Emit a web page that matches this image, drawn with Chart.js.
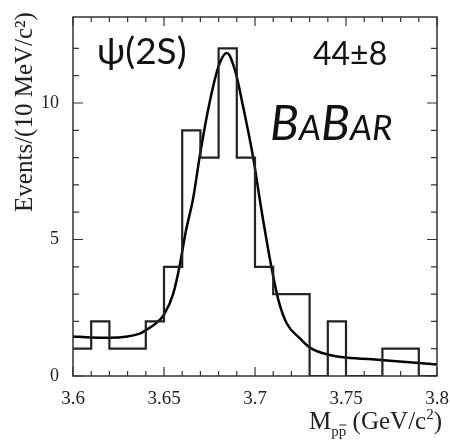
<!DOCTYPE html>
<html>
<head>
<meta charset="utf-8">
<script src="https://cdn.jsdelivr.net/npm/chart.js@4"></script>
<style>
  html, body { margin: 0; padding: 0; background: #fff; }
  #wrap { width: 450px; height: 440px; position: relative; }
</style>
</head>
<body>
<div id="wrap"><canvas id="c" width="450" height="440"></canvas></div>
<script>
// ---- data ----
const binLow = [3.60, 3.61, 3.62, 3.63, 3.64, 3.65, 3.66, 3.67, 3.68, 3.69,
                3.70, 3.71, 3.72, 3.73, 3.74, 3.75, 3.76, 3.77, 3.78, 3.79];
const counts = [1, 2, 1, 1, 2, 4, 9, 8, 12, 8,
                4, 3, 3, 0, 2, 0, 0, 1, 1, 0];
const histEnd = 3.80;

const fitX = [3.600, 3.610, 3.620, 3.630, 3.637, 3.640, 3.645, 3.650, 3.655, 3.6585,
              3.662, 3.666, 3.670, 3.675, 3.680, 3.6845, 3.689, 3.6935, 3.699, 3.7035,
              3.709, 3.7128, 3.7174, 3.7247, 3.730, 3.741, 3.750, 3.769, 3.790, 3.800];
const fitY = [1.45, 1.41, 1.40, 1.45, 1.56, 1.68, 1.90, 2.25, 3.00, 4.00,
              5.30, 6.50, 8.20, 10.00, 11.35, 11.83, 11.20, 9.86, 8.00, 6.10,
              4.00, 2.80, 1.93, 1.38, 1.05, 0.77, 0.68, 0.59, 0.48, 0.42];

const xTickLabels = ['3.6', '3.65', '3.7', '3.75', '3.8'];
const yTickLabels = ['0', '5', '10'];
const yTitle = 'Events/(10 MeV/c\u00B2)';
const labelPsi = '\u03C8(2S)';
const labelYield = '44\u00B18';

// ---- build datasets ----
const histPts = binLow.map((x, i) => ({ x: x, y: counts[i] }));
histPts.push({ x: histEnd, y: 0 });
const fitPts = fitX.map((x, i) => ({ x: x, y: fitY[i] }));

const framePlugin = {
  id: 'frame',
  afterDatasetsDraw(chart) {
    const { ctx, chartArea: a, scales: { x, y } } = chart;
    ctx.save();
    ctx.strokeStyle = '#333';
    ctx.lineWidth = 1.5;
    ctx.strokeRect(a.left, a.top, a.right - a.left, a.bottom - a.top);
    ctx.lineWidth = 1.2;
    ctx.beginPath();
    x.ticks.forEach(t => {
      const k = Math.round(t.value * 100);
      const px = x.getPixelForValue(k / 100);
      const L = (k % 5 === 0) ? 9 : 5;
      ctx.moveTo(px, a.bottom); ctx.lineTo(px, a.bottom - L);
      ctx.moveTo(px, a.top); ctx.lineTo(px, a.top + L);
    });
    y.ticks.forEach(t => {
      if (Math.abs(t.value - Math.round(t.value)) > 1e-6) return;
      const py = y.getPixelForValue(t.value);
      const L = (Math.round(t.value) % 5 === 0) ? 10 : 6;
      ctx.moveTo(a.left, py); ctx.lineTo(a.left + L, py);
      ctx.moveTo(a.right, py); ctx.lineTo(a.right - L, py);
    });
    ctx.stroke();
    ctx.restore();
  },
  afterDraw(chart) {
    const { ctx } = chart;
    ctx.save();
    ctx.fillStyle = '#111';
    ctx.textBaseline = 'alphabetic';
    // annotations
    ctx.font = '37px Lato, "DejaVu Sans", sans-serif';
    ctx.textAlign = 'left';
    ctx.fillText(labelPsi, 97, 64);
    ctx.font = '32px Lato, sans-serif';
    ctx.fillText(labelYield, 313, 65);
    // BaBar small caps italic
    let bx = 270;
    const parts = [['B', 48], ['A', 35], ['B', 48], ['AR', 35]];
    parts.forEach(([s, f]) => {
      ctx.font = 'italic ' + f + 'px Lato, sans-serif';
      ctx.fillText(s, bx, 140);
      bx += ctx.measureText(s).width;
    });
    // y title
    ctx.fillStyle = '#222';
    ctx.font = '25px "Liberation Serif", serif';
    ctx.save();
    ctx.translate(32, 112);
    ctx.rotate(-Math.PI / 2);
    ctx.textAlign = 'center';
    ctx.fillText(yTitle, 0, 0);
    ctx.restore();
    // x title: M_{p p-bar} (GeV/c^2)
    const big = '25px "Liberation Serif", serif';
    const small = '15px "Liberation Serif", serif';
    const segs = [['M', big, 0], ['pp', small, 7], [' (GeV/c', big, 0], ['2', small, -10], [')', big, 0]];
    let w = 0;
    segs.forEach(([s, f]) => { ctx.font = f; w += ctx.measureText(s).width; });
    let xx = 442 - w;
    const base = 429;
    segs.forEach(([s, f, dy], i) => {
      ctx.font = f;
      ctx.textAlign = 'left';
      ctx.fillText(s, xx, base + dy);
      const sw = ctx.measureText(s).width;
      if (i === 1) {
        const ow = ctx.measureText('p').width;
        ctx.strokeStyle = '#222'; ctx.lineWidth = 1;
        ctx.beginPath();
        ctx.moveTo(xx + ow + 0.5, base + dy - 11);
        ctx.lineTo(xx + sw, base + dy - 11);
        ctx.stroke();
      }
      xx += sw;
    });
    ctx.restore();
  }
};

new Chart(document.getElementById('c'), {
  type: 'line',
  data: {
    datasets: [
      {
        label: 'data',
        data: histPts,
        stepped: 'before',
        borderColor: '#222',
        borderWidth: 2.2,
        pointRadius: 0,
        fill: false
      },
      {
        label: 'fit',
        data: fitPts,
        cubicInterpolationMode: 'monotone',
        borderColor: '#000',
        borderWidth: 2.5,
        pointRadius: 0,
        fill: false
      }
    ]
  },
  options: {
    responsive: false,
    animation: false,
    devicePixelRatio: 1,
    layout: { padding: { top: 17, right: 13, left: 0, bottom: 0 } },
    plugins: { legend: { display: false }, tooltip: { enabled: false } },
    scales: {
      x: {
        type: 'linear',
        min: 3.6,
        max: 3.8,
        afterFit(s) { s.height = 64; s.paddingLeft = 0; s.paddingRight = 0; },
        grid: { display: false, drawTicks: false },
        border: { display: false },
        ticks: {
          stepSize: 0.01,
          autoSkip: false,
          maxRotation: 0,
          padding: 12,
          color: '#222',
          font: { family: '"Liberation Serif", serif', size: 19 },
          callback(v) {
            const k = Math.round(v * 100);
            if (k % 5 !== 0) return '';
            return xTickLabels[(k - 360) / 5];
          }
        }
      },
      y: {
        min: 0,
        max: 13.15,
        afterFit(s) { s.width = 73; s.paddingTop = 0; s.paddingBottom = 0; },
        grid: { display: false, drawTicks: false },
        border: { display: false },
        ticks: {
          stepSize: 1,
          autoSkip: false,
          padding: 14,
          color: '#222',
          font: { family: '"Liberation Serif", serif', size: 18 },
          callback(v) {
            if (Math.abs(v - Math.round(v)) > 1e-6) return '';
            const k = Math.round(v);
            if (k % 5 !== 0) return '';
            return yTickLabels[k / 5];
          }
        }
      }
    }
  },
  plugins: [framePlugin]
});
</script>
</body>
</html>
